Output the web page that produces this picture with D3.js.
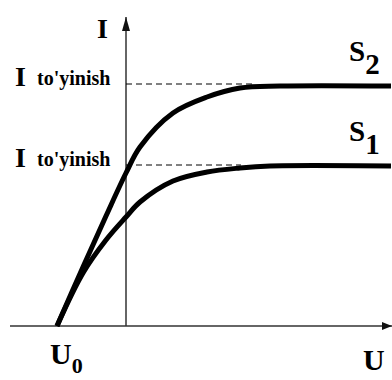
<!DOCTYPE html>
<html>
<head>
<meta charset="utf-8">
<script src="https://cdn.jsdelivr.net/npm/d3@7"></script>
<style>
  html, body { margin: 0; padding: 0; background: #fff; }
  svg { display: block; }
</style>
</head>
<body>
<svg id="chart" width="392" height="380"></svg>
<script>
// Current-voltage characteristics of a photocell for two light fluxes S1 < S2
const curveNames = ["S1", "S2"];
const voltageS1 = [-1.38, -0.86, -0.4, 0, 0.28, 0.94, 1.62, 2.28, 2.88, 5.3];
const currentS1 = [0, 1.06, 1.72, 2.18, 2.48, 2.9, 3.08, 3.16, 3.2, 3.2];
const voltageS2 = [-1.38, -0.86, -0.4, 0, 0.28, 0.94, 1.62, 2.28, 3.08, 5.3];
const currentS2 = [0, 1.18, 2.2, 3.06, 3.58, 4.26, 4.58, 4.76, 4.8, 4.8];
const saturationLevels = [3.22, 4.84];
const saturationEnds = [2.3, 2.6];
const stopVoltage = -1.38;
const saturationLabel = "to'yinish";

const svg = d3.select("#chart");
const x = d3.scaleLinear().domain([-2.32, 5.32]).range([10, 392]);
const y = d3.scaleLinear().domain([0, 6.18]).range([326, 17]);

const label = (xp, yp, size) =>
  svg.append("text").attr("x", xp).attr("y", yp)
    .style("font-family", "'Liberation Serif', serif")
    .style("font-weight", "bold")
    .style("font-size", size + "px")
    .attr("fill", "#000");

// arrow heads for the axes
const defs = svg.append("defs");
defs.append("marker")
  .attr("id", "arrowX").attr("viewBox", "0 0 10 8")
  .attr("refX", 10).attr("refY", 4)
  .attr("markerWidth", 10).attr("markerHeight", 8)
  .attr("markerUnits", "userSpaceOnUse").attr("orient", "auto")
  .append("path").attr("d", "M0,0 L10,4 L0,8 Z").attr("fill", "#111");
defs.append("marker")
  .attr("id", "arrowY").attr("viewBox", "0 0 14 8")
  .attr("refX", 14).attr("refY", 4)
  .attr("markerWidth", 14).attr("markerHeight", 8)
  .attr("markerUnits", "userSpaceOnUse").attr("orient", "auto")
  .append("path").attr("d", "M0,0 L14,4 L0,8 Z").attr("fill", "#111");

// axes
svg.append("line")
  .attr("x1", x(-2.32)).attr("y1", y(0)).attr("x2", x(5.32)).attr("y2", y(0))
  .attr("stroke", "#333").attr("stroke-width", 1.5).attr("marker-end", "url(#arrowX)");
svg.append("line")
  .attr("x1", x(0)).attr("y1", y(0)).attr("x2", x(0)).attr("y2", y(6.18))
  .attr("stroke", "#333").attr("stroke-width", 1.5).attr("marker-end", "url(#arrowY)");

// saturation current levels
saturationLevels.forEach((lv, i) => {
  svg.append("line")
    .attr("x1", x(0)).attr("x2", x(saturationEnds[i]))
    .attr("y1", y(lv)).attr("y2", y(lv))
    .attr("stroke", "#000").attr("stroke-width", 1)
    .attr("stroke-dasharray", "6,4");
  label(15, y(lv) + 2, 28).text("I");
  label(37, y(lv) + 1, 20).text(saturationLabel);
});

// curves
const line = d3.line().x(d => x(d[0])).y(d => y(d[1])).curve(d3.curveCatmullRom.alpha(0.5));
const series = [
  { name: curveNames[0], pts: d3.zip(voltageS1, currentS1) },
  { name: curveNames[1], pts: d3.zip(voltageS2, currentS2) }
];
series.forEach(s => {
  svg.append("path").datum(s.pts)
    .attr("d", line).attr("fill", "none")
    .attr("stroke", "#000").attr("stroke-width", 5)
    .attr("stroke-linejoin", "round");
  const last = s.pts[s.pts.length - 1];
  const t = label(349, y(last[1]) - 25, 29);
  t.append("tspan").text(s.name[0]);
  t.append("tspan").attr("dy", 13).text(s.name.slice(1));
});

// axis labels
label(97, 38, 28).text("I");
label(363, 370, 30).text("U");
const u0 = label(x(stopVoltage) - 7, 364, 30);
u0.append("tspan").text("U");
u0.append("tspan").attr("dy", 9).style("font-size", "22px").text("0");
</script>
</body>
</html>
